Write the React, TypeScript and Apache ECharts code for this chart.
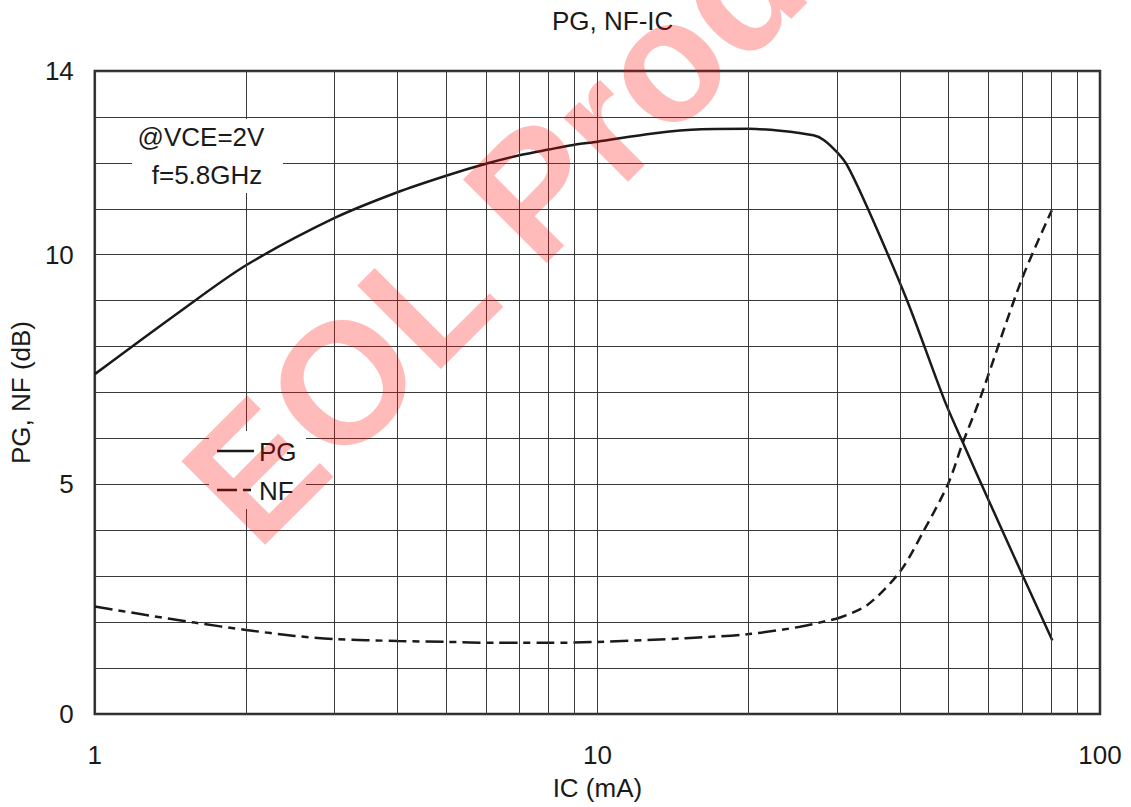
import React, { useEffect, useRef } from 'react';
import * as echarts from 'echarts';

// PG curve (IC in mA, PG in dB)
const pgIC = [1, 1.48, 2, 3, 4, 5, 6, 7.03, 8, 8.95, 10, 12.9, 16.1, 20, 23.1, 26.9, 28.2, 30.1, 31.5, 34.5, 41.3, 49, 53.3, 60.4, 70.2, 80.4];
const pgDB = [7.4, 8.77, 9.77, 10.8, 11.36, 11.72, 11.98, 12.17, 12.29, 12.39, 12.46, 12.64, 12.73, 12.74, 12.7, 12.6, 12.5, 12.21, 11.92, 11.01, 9.01, 6.84, 5.92, 4.59, 3.01, 1.6];

// NF curve, low-current part (dash-dot) and high-current part (dashed)
const nfLowIC = [1, 1.257, 1.58, 2, 2.5, 3, 4, 5, 6.23, 7, 8, 10, 15, 20, 25.3, 30];
const nfLowDB = [2.34, 2.16, 1.99, 1.83, 1.7, 1.63, 1.59, 1.57, 1.55, 1.55, 1.55, 1.57, 1.65, 1.74, 1.9, 2.08];
const nfHighIC = [30, 34.4, 40, 44.5, 49.9, 53.3, 57.6, 69.8, 80.2];
const nfHighDB = [2.08, 2.37, 3.1, 3.97, 5.02, 5.9, 6.84, 9.45, 10.97];

// minor vertical grid lines of the log axis
const xMinorTicks = [2, 3, 4, 5, 6, 7, 8, 9, 20, 30, 40, 50, 60, 70, 80, 90];
// y tick labels that are shown
const yTickLabels = [0, 5, 10, 14];

const titleText = 'PG, NF-IC';
const xName = 'IC (mA)';
const yName = 'PG, NF (dB)';
const noteLines = ['@VCE=2V', 'f=5.8GHz'];
const legendNames = ['PG', 'NF'];
const watermark = 'EOL Product';

const FONT = '"Liberation Sans", Arial, Helvetica, sans-serif';
const INK = '#1a1a1a';
const GRID = '#3a3a3a';
const FS = 26;

export default function App() {
  const ref = useRef<HTMLDivElement>(null);

  useEffect(() => {
    if (!ref.current) return;
    const chart = echarts.init(ref.current, null, { renderer: 'svg' });
    const pair = (xs: number[], ys: number[]) => xs.map((x, i) => [x, ys[i]]);

    chart.setOption({
      animation: false,
      backgroundColor: '#ffffff',
      textStyle: { fontFamily: FONT },
      title: {
        text: titleText,
        left: 547,
        top: 3,
        textStyle: { fontFamily: FONT, fontSize: FS, fontWeight: 'normal', color: INK },
      },
      grid: {
        left: 94,
        right: 31,
        top: 71,
        bottom: 93,
        show: true,
        borderColor: '#2a2a2a',
        borderWidth: 2.5,
        backgroundColor: 'transparent',
      },
      xAxis: {
        type: 'log',
        logBase: 10,
        min: 1,
        max: 100,
        name: xName,
        nameLocation: 'middle',
        nameGap: 61,
        nameTextStyle: { fontFamily: FONT, fontSize: FS, color: INK },
        axisLine: { show: false },
        axisTick: { show: false },
        axisLabel: { fontFamily: FONT, fontSize: FS, color: INK, margin: 28 },
        splitLine: { show: true, lineStyle: { color: GRID, width: 1 } },
      },
      yAxis: {
        type: 'value',
        min: 0,
        max: 14,
        interval: 1,
        name: yName,
        nameLocation: 'middle',
        nameGap: 60,
        nameTextStyle: { fontFamily: FONT, fontSize: FS, color: INK },
        axisLine: { show: false },
        axisTick: { show: false },
        axisLabel: {
          fontFamily: FONT,
          fontSize: FS,
          color: INK,
          margin: 21,
          formatter: (v: number) => (yTickLabels.includes(v) ? String(v) : ''),
        },
        splitLine: { show: true, lineStyle: { color: GRID, width: 1 } },
      },
      series: [
        {
          name: legendNames[0],
          type: 'line',
          data: pair(pgIC, pgDB),
          showSymbol: false,
          smooth: 0.3,
          z: 3,
          lineStyle: { color: INK, width: 2.5 },
          markLine: {
            silent: true,
            symbol: ['none', 'none'],
            label: { show: false },
            animation: false,
            lineStyle: { type: 'solid', color: GRID, width: 1 },
            emphasis: { disabled: true },
            data: xMinorTicks.map((v) => ({ xAxis: v })),
          },
        },
        {
          name: legendNames[1],
          type: 'line',
          data: pair(nfLowIC, nfLowDB),
          showSymbol: false,
          smooth: 0.3,
          z: 3,
          lineStyle: { color: INK, width: 2.5, type: [18, 6, 7, 6] },
        },
        {
          name: legendNames[1] + '-high',
          type: 'line',
          data: pair(nfHighIC, nfHighDB),
          showSymbol: false,
          smooth: 0.3,
          z: 3,
          lineStyle: { color: INK, width: 2.5, type: [10, 6] },
        },
      ],
      graphic: [
        { type: 'rect', z: 50, shape: { x: 132, y: 119, width: 151, height: 74 }, style: { fill: '#ffffff' } },
        { type: 'text', z: 51, x: 201, y: 137, style: { text: noteLines[0], font: `${FS}px ${FONT}`, fill: INK, textAlign: 'center', textVerticalAlign: 'middle' } },
        { type: 'text', z: 51, x: 207, y: 175, style: { text: noteLines[1], font: `${FS}px ${FONT}`, fill: INK, textAlign: 'center', textVerticalAlign: 'middle' } },
        { type: 'rect', z: 50, shape: { x: 209, y: 431, width: 97, height: 78 }, style: { fill: '#ffffff' } },
        { type: 'line', z: 51, shape: { x1: 217, y1: 451, x2: 254, y2: 451 }, style: { stroke: INK, lineWidth: 2.5 } },
        { type: 'line', z: 51, shape: { x1: 217, y1: 490, x2: 252, y2: 490 }, style: { stroke: INK, lineWidth: 2.5, lineDash: [20, 6, 8, 100] } },
        { type: 'text', z: 51, x: 259, y: 452, style: { text: legendNames[0], font: `${FS}px ${FONT}`, fill: INK, textAlign: 'left', textVerticalAlign: 'middle' } },
        { type: 'text', z: 51, x: 259, y: 491, style: { text: legendNames[1], font: `${FS}px ${FONT}`, fill: INK, textAlign: 'left', textVerticalAlign: 'middle' } },
        {
          type: 'text',
          z: 100,
          silent: true,
          x: 585,
          y: 140,
          rotation: Math.PI / 4,
          style: {
            text: watermark,
            font: `bold 172px ${FONT}`,
            fill: 'rgba(255,0,0,0.27)',
            textAlign: 'center',
            textVerticalAlign: 'middle',
          },
        },
      ],
    });

    return () => chart.dispose();
  }, []);

  return (
    <div
      ref={ref}
      style={{ position: 'fixed', left: 0, top: 0, width: 1131, height: 807, background: '#fff' }}
    />
  );
}
